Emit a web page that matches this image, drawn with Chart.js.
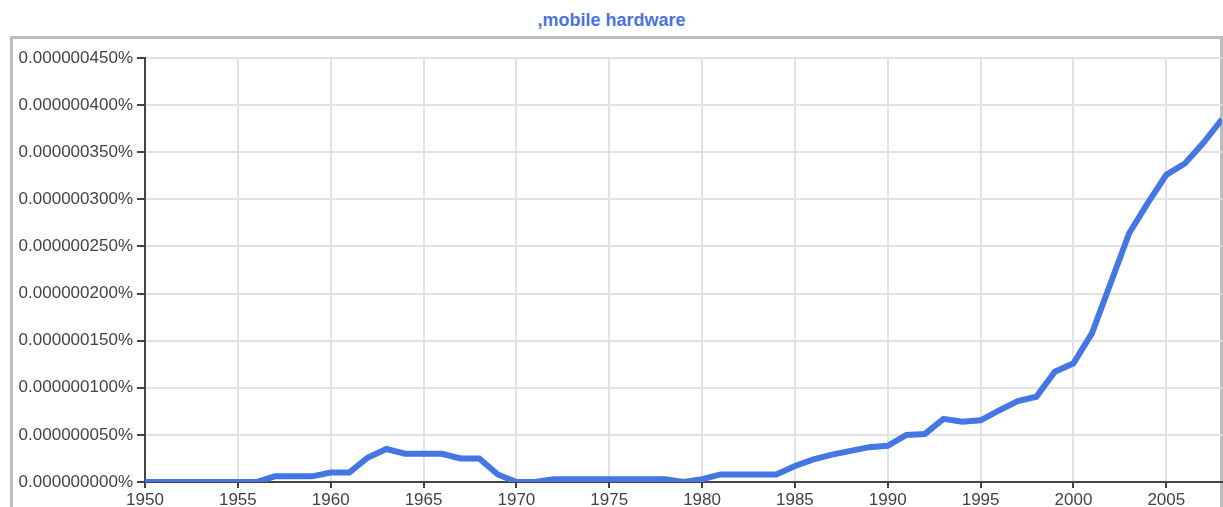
<!DOCTYPE html>
<html>
<head>
<meta charset="utf-8">
<script src="https://cdn.jsdelivr.net/npm/chart.js@4"></script>
<style>
  html, body { margin: 0; padding: 0; background: #fff; }
  #wrap { position: relative; width: 1223px; height: 507px; overflow: hidden; }
  #frame { position: absolute; left: 10px; top: 36px; width: 1207px; height: 520px;
           border: 3px solid #bdbdbd; box-sizing: content-box; }
  #title { position: absolute; left: 0; top: 10px; width: 1223px; text-align: center;
           font: bold 18px "Liberation Sans", Arial, sans-serif; color: #4a74dd; }
  #c { position: absolute; left: 0; top: 0; }
</style>
</head>
<body>
<div id="wrap">
  <div id="frame"></div>
  <div id="title">,mobile hardware</div>
  <canvas id="c" width="1223" height="507"></canvas>
</div>
<script>
// Years (x axis)
const years = [];
for (let y = 1950; y <= 2008; y++) years.push(y);

// Frequency of ",mobile hardware" in billionths of a percent (1 unit = 0.000000001%)
const values = [
  0, 0, 0, 0, 0, 0, 0,          // 1950-1956
  6, 6, 6,                      // 1957-1959
  10, 10,                       // 1960-1961
  26, 35, 30, 30, 30, 25, 25, 8,// 1962-1969
  0, 0,                         // 1970-1971
  3, 3, 3, 3, 3, 3, 3,          // 1972-1978
  0,                            // 1979
  3,                            // 1980
  8, 8, 8, 8,                   // 1981-1984
  17, 24, 29, 33, 37, 38.5,     // 1985-1990
  50, 51, 67, 64, 65.5, 76, 86, 90.5, 117, // 1991-1999
  126, 158, 211, 264, 296, 326, 338, 360, 385 // 2000-2008
];

// Axis settings
const yTicks = [0, 50, 100, 150, 200, 250, 300, 350, 400, 450];
const xTickStep = 5;
const seriesLabel = ',mobile hardware';

const points = years.map((yr, i) => ({ x: yr, y: values[i] }));

const axisColor = '#444';
const gridColor = '#e2e2e2';
const tickFont = { family: '"Liberation Sans", Arial, sans-serif', size: 17 };

new Chart(document.getElementById('c'), {
  type: 'line',
  data: {
    datasets: [{
      label: seriesLabel,
      data: points,
      borderColor: '#4477e3',
      borderWidth: 6,
      pointRadius: 0,
      tension: 0,
      fill: false
    }]
  },
  options: {
    responsive: false,
    animation: false,
    layout: { padding: { left: 0, top: 58, right: 1, bottom: 0 } },
    plugins: { legend: { display: false }, title: { display: false }, tooltip: { enabled: false } },
    scales: {
      x: {
        type: 'linear',
        min: years[0],
        max: years[years.length - 1],
        ticks: {
          stepSize: xTickStep,
          includeBounds: false,
          autoSkip: false,
          maxRotation: 0,
          color: axisColor,
          font: tickFont,
          padding: 2,
          callback: v => String(v)
        },
        grid: { color: gridColor, lineWidth: 2, tickColor: axisColor, tickLength: 6, tickWidth: 2 },
        border: { color: axisColor, width: 2 },
        afterFit: s => { s.height = 25; }
      },
      y: {
        min: yTicks[0],
        max: yTicks[yTicks.length - 1],
        afterBuildTicks: s => { s.ticks = yTicks.map(v => ({ value: v })); },
        ticks: {
          color: axisColor,
          font: tickFont,
          padding: 4,
          callback: v => (v / 1e9).toFixed(9) + '%'
        },
        grid: { color: gridColor, lineWidth: 2, tickColor: axisColor, tickLength: 8, tickWidth: 2 },
        border: { color: axisColor, width: 2 },
        afterFit: s => { s.width = 145; }
      }
    }
  }
});
</script>
</body>
</html>
